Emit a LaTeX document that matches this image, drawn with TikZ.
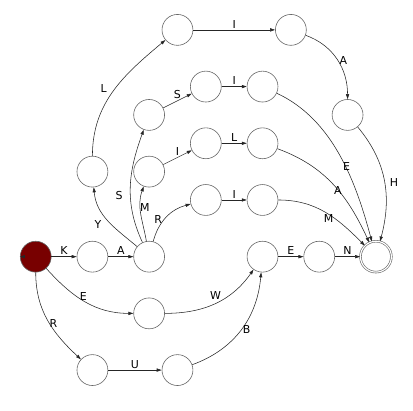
\documentclass[tikz,border=0pt]{standalone}
\usepackage{fontspec}
\setmainfont{DejaVu Sans}
\usetikzlibrary{arrows.meta}
\definecolor{startred}{HTML}{780000}

\begin{document}
\begin{tikzpicture}[x=2cm,y=2cm,>={Triangle[length=5pt,width=3.2pt]}]
    \tikzstyle{state} = [draw=black!60,circle,minimum size=1.09cm,inner sep=0pt,line width=0.6pt]
    \tikzstyle{accept} = [state,double,double distance=1.2pt]
    \tikzstyle{trans} = [->,draw=black!85,line width=0.55pt]
    \tikzstyle{lbl} = [font=\fontsize{11}{13}\selectfont,inner sep=1.5pt]
    \useasboundingbox (-0.63,-2.721) rectangle (6.654,4.527);
        % states
        \node[state,fill=startred] (s0) at (0,0) {};
        \node[state] (k) at (1,0) {};
        \node[state] (ka) at (2,0) {};
        \node[state] (kay) at (1,1.5) {};
        \node[state] (kam) at (2,1.5) {};
        \node[state] (kas) at (2,2.5) {};
        \node[state] (kar) at (3,1) {};
        \node[state] (kass) at (3,3) {};
        \node[state] (kassi) at (4,3) {};
        \node[state] (kami) at (3,2) {};
        \node[state] (kamil) at (4,2) {};
        \node[state] (kari) at (4,1) {};
        \node[state] (kayl) at (2.5,4) {};
        \node[state] (kayli) at (4.5,4) {};
        \node[state] (kaylia) at (5.5,2.5) {};
        \node[state] (e) at (2,-1) {};
        \node[state] (r) at (1,-2) {};
        \node[state] (ru) at (2.5,-2) {};
        \node[state] (ewb) at (4,0) {};
        \node[state] (en) at (5,0) {};
        \node[accept] (fin) at (6,0) {};
        \coordinate (init) at (-0.24,0);
        % transitions
        \draw[trans] (init) -- (s0);
        \draw[trans] (s0) -- node[lbl,above] {K} (k);
        \draw[trans] (k) -- node[lbl,above] {A} (ka);
        \draw[trans] (ka) to[out=140,in=-85] node[lbl,pos=0.42,left=9pt] {Y} (kay);
        \draw[trans] (ka) to[out=115,in=-110] node[lbl,pos=0.42,left=6pt] {S} (kas);
        \draw[trans] (ka) to[out=100,in=-110] node[lbl,pos=0.62,right=-2pt] {M} (kam);
        \draw[trans] (ka) to[out=75,in=-165] node[lbl,pos=0.3,above left,xshift=4pt] {R} (kar);
        \draw[trans] (kay) to[out=90,in=-140] node[lbl,pos=0.5,left,xshift=-5pt,yshift=2pt] {L} (kayl);
        \draw[trans] (kayl) -- node[lbl,above] {I} (kayli);
        \draw[trans] (kayli) to[out=-20,in=90] node[lbl,pos=0.6,above right,xshift=-3pt] {A} (kaylia);
        \draw[trans] (kaylia) to[out=-50,in=75] node[lbl,pos=0.5,right,xshift=4pt,yshift=-2pt] {H} (fin);
        \draw[trans] (kas) -- node[lbl,above] {S} (kass);
        \draw[trans] (kass) -- node[lbl,above] {I} (kassi);
        \draw[trans] (kassi) to[out=-25,in=105,looseness=0.9] node[lbl,pos=0.57,right,xshift=-4pt] {E} (fin);
        \draw[trans] (kam) -- node[lbl,above] {I} (kami);
        \draw[trans] (kami) -- node[lbl,above] {L} (kamil);
        \draw[trans] (kamil) to[out=-20,in=115] node[lbl,pos=0.6,left,xshift=2pt,yshift=4pt] {A} (fin);
        \draw[trans] (kar) -- node[lbl,above] {I} (kari);
        \draw[trans] (kari) to[out=0,in=135] node[lbl,pos=0.58,below left,xshift=3pt,yshift=4pt] {M} (fin);
        \draw[trans] (s0) to[out=-48,in=180] node[lbl,pos=0.45,above right,xshift=-3pt,yshift=-3pt] {E} (e);
        \draw[trans] (e) to[out=0,in=-125] node[lbl,pos=0.55,above left,xshift=3pt] {W} (ewb);
        \draw[trans] (s0) to[out=-90,in=137] node[lbl,pos=0.5,right,yshift=-3pt] {R} (r);
        \draw[trans] (r) -- node[lbl,above] {U} (ru);
        \draw[trans] (ru) to[out=20,in=-95] node[lbl,pos=0.5,right] {B} (ewb);
        \draw[trans] (ewb) -- node[lbl,above] {E} (en);
        \draw[trans] (en) -- node[lbl,above] {N} (fin);
    \end{tikzpicture}
\end{document}
